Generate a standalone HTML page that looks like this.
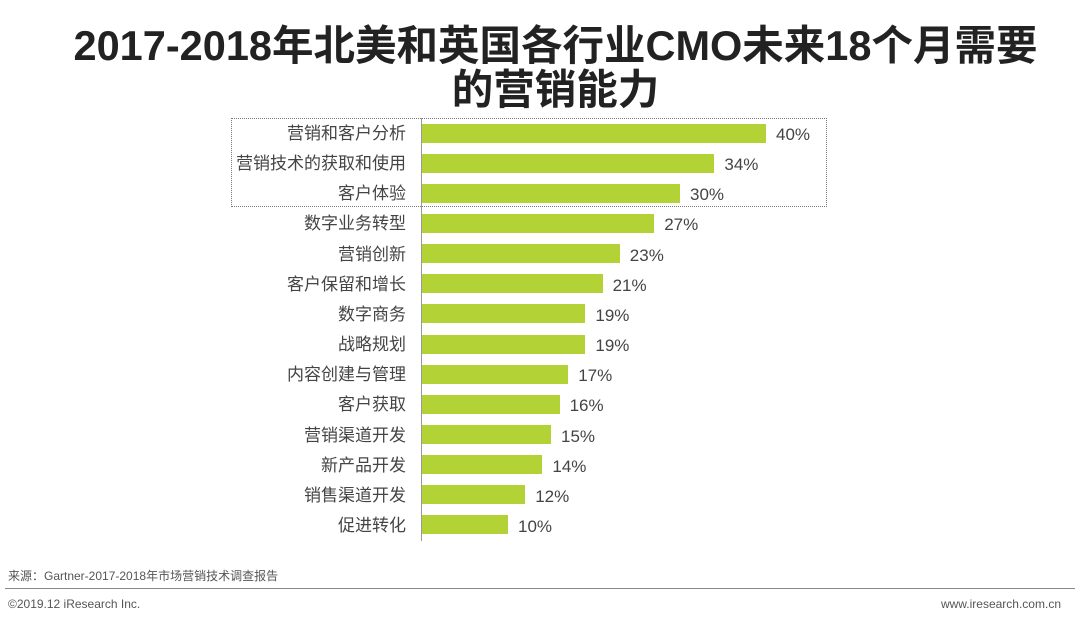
<!DOCTYPE html>
<html><head><meta charset="utf-8"><style>
body{margin:0;width:1081px;height:624px;background:#fff;position:relative;overflow:hidden;font-family:"Liberation Sans","Noto Sans CJK SC",sans-serif;}
.t{position:absolute;left:15px;width:1081px;text-align:center;font-weight:bold;font-size:41.5px;color:#222;line-height:44px;}
.lab{position:absolute;right:675px;font-size:17px;color:#444;white-space:nowrap;line-height:20px;}
.bar{position:absolute;left:422px;height:19px;background:#b3d235;}
.val{position:absolute;font-size:17px;color:#444;line-height:20px;}
</style></head><body>
<div class="t" style="top:24px">2017-2018年北美和英国各行业CMO未来18个月需要</div>
<div class="t" style="top:68px">的营销能力</div>
<div style="position:absolute;left:231px;top:118px;width:594px;height:87px;border:1px dotted #777;"></div>
<div style="position:absolute;left:421px;top:118px;width:1px;height:423px;background:#999;"></div>
<div id="c"></div>
<div style="position:absolute;left:8px;top:567px;font-size:12px;color:#555;">来源：Gartner-2017-2018年市场营销技术调查报告</div>
<div style="position:absolute;left:5px;top:588px;width:1070px;height:1px;background:#888;"></div>
<div style="position:absolute;left:8px;top:597px;font-size:12px;color:#555;">©2019.12 iResearch Inc.</div>
<div style="position:absolute;right:20px;top:597px;font-size:12px;color:#555;">www.iresearch.com.cn</div>
<script>
var d=[["营销和客户分析",40],["营销技术的获取和使用",34],["客户体验",30],["数字业务转型",27],["营销创新",23],["客户保留和增长",21],["数字商务",19],["战略规划",19],["内容创建与管理",17],["客户获取",16],["营销渠道开发",15],["新产品开发",14],["销售渠道开发",12],["促进转化",10]];
var h="";d.forEach(function(r,i){var y=133+i*30.15;var w=r[1]*8.6;
h+='<div class="lab" style="top:'+(y-9)+'px">'+r[0]+'</div><div class="bar" style="top:'+(y-9.5)+'px;width:'+w+'px"></div><div class="val" style="left:'+(422+w+10)+'px;top:'+(y-8)+'px">'+r[1]+'%</div>';});
document.getElementById("c").innerHTML=h;
</script>
</body></html>
